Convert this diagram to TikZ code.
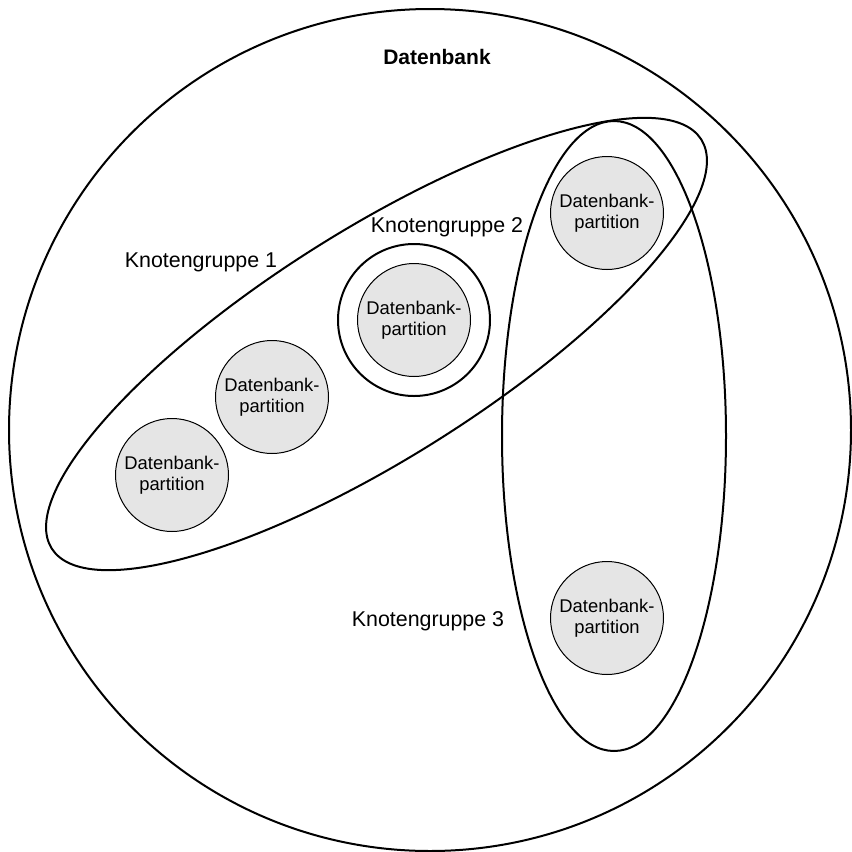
\documentclass[tikz,border=0pt]{standalone}
\usepackage{fontspec}
\setmainfont{Liberation Sans}
\usetikzlibrary{shapes.geometric}
\tikzset{
  db/.style    = {circle, draw, line width=1pt, inner sep=0, minimum size=421pt},
  gruppe/.style = {ellipse, draw, line width=1pt, inner sep=0},
  ring/.style  = {circle, draw, line width=1pt, inner sep=0, minimum size=76pt},
  part/.style  = {circle, draw, line width=0.5pt, fill=gray!20, inner sep=0, minimum size=56.5pt,
                  align=center, font=\fontsize{9.2}{10.4}\selectfont},
  et/.style    = {font=\fontsize{10.7}{12}\selectfont}
}

\begin{document}
\begin{tikzpicture}[x=0.5pt, y=-0.5pt]
  \useasboundingbox (0,0) rectangle (852,852);
  \node[db] (D) at (430,430) {};
  \node[font=\bfseries\fontsize{10.5}{12}\selectfont] (dt) at (437,57) {Datenbank};
  % Knotengruppen
  \node[gruppe, minimum width=383.8pt, minimum height=114pt, rotate=32.2] (g1) at (376.5,344) {};
  \node[gruppe, minimum width=112pt, minimum height=315pt] (g3) at (614,436) {};
  \node[ring] (g2) at (414,320) {};
  \node[et] (l1) at (201,262) {Knotengruppe 1};
  \node[et] (l2) at (447,227) {Knotengruppe 2};
  \node[et] (l3) at (428,621) {Knotengruppe 3};
  % Partitionen
  \node[part] (p1) at (172,475) {Datenbank-\\partition};
  \node[part] (p2) at (272,397) {Datenbank-\\partition};
  \node[part] (p3) at (414,320) {Datenbank-\\partition};
  \node[part] (p4) at (607,213) {Datenbank-\\partition};
  \node[part] (p5) at (607,618) {Datenbank-\\partition};
\end{tikzpicture}
\end{document}
